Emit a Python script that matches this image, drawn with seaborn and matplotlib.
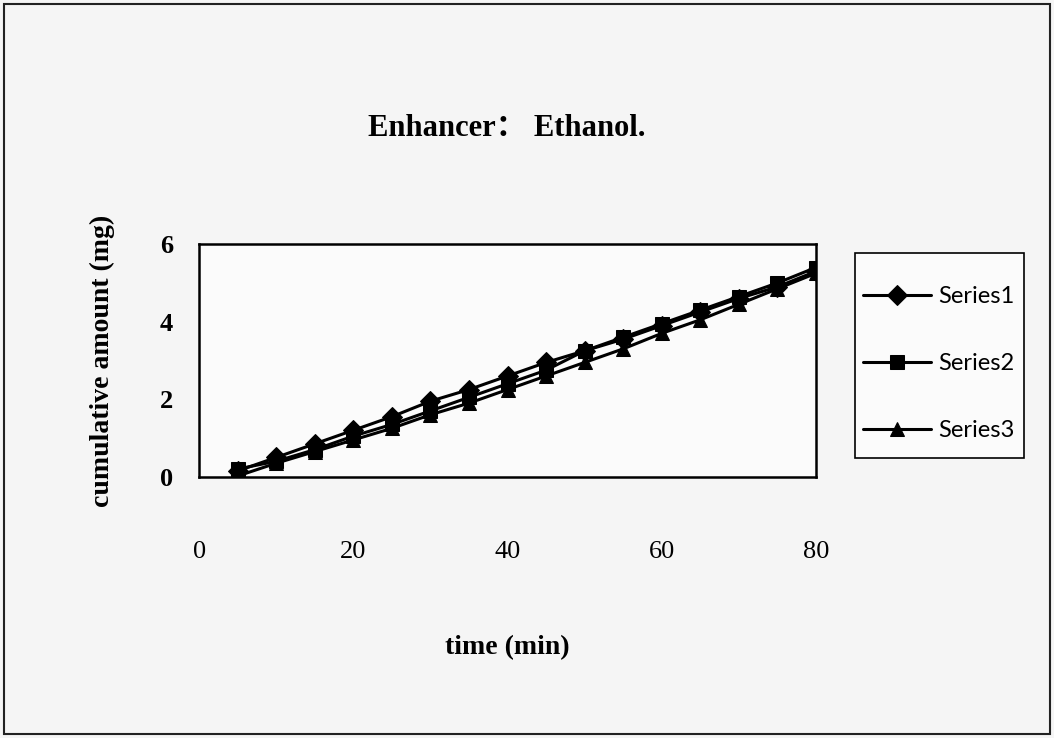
import matplotlib
matplotlib.use('Agg')
import matplotlib.pyplot as plt
import seaborn as sns
import pandas as pd
from matplotlib.patches import Rectangle

time_min = [5, 10, 15, 20, 25, 30, 35, 40, 45, 50, 55, 60, 65, 70, 75, 80]
series1 = [0.15, 0.50, 0.85, 1.20, 1.55, 1.95, 2.25, 2.60, 2.95, 3.25, 3.55, 3.90, 4.25, 4.60, 4.90, 5.30]
series2 = [0.20, 0.40, 0.70, 1.05, 1.35, 1.70, 2.05, 2.40, 2.75, 3.25, 3.60, 3.95, 4.30, 4.65, 5.00, 5.40]
series3 = [0.02, 0.35, 0.65, 0.95, 1.25, 1.60, 1.90, 2.25, 2.60, 2.95, 3.30, 3.70, 4.05, 4.45, 4.85, 5.25]
names = ['Series1', 'Series2', 'Series3']

df = pd.DataFrame({
    'time': time_min * 3,
    'amount': series1 + series2 + series3,
    'series': [n for n in names for _ in time_min],
})

sns.set_style('white')
plt.rcParams['font.family'] = ['Liberation Serif', 'DejaVu Serif']
plt.rcParams.update({'text.color': 'black', 'axes.labelcolor': 'black',
                     'xtick.color': 'black', 'ytick.color': 'black'})

fig = plt.figure(figsize=(10.54, 7.38), dpi=100, facecolor='#f5f5f5')
# outer frame of the scanned chart
fig.patches.append(Rectangle((0.004, 0.005), 0.992, 0.99, transform=fig.transFigure,
                             fill=False, edgecolor='#222222', linewidth=1.5, zorder=-2))
ax = fig.add_axes([0.189, 0.354, 0.585, 0.315], facecolor='#fbfbfb')

sns.lineplot(data=df, x='time', y='amount', hue='series', style='series',
             palette=['black'] * 3, markers={'Series1': 'D', 'Series2': 's', 'Series3': '^'},
             dashes=False, markersize=10, markeredgecolor='black', linewidth=2.2, ax=ax)

ax.set_xlim(0, 80)
ax.set_ylim(0, 6)
ax.set_xticks([0, 20, 40, 60, 80])
ax.set_yticks([0, 2, 4, 6])
for s in ax.spines.values():
    s.set_color('black')
    s.set_linewidth(1.8)
ax.tick_params(axis='x', direction='inout', length=17, width=1.5, pad=38, labelsize=19)
ax.tick_params(axis='y', direction='inout', length=18, width=1.5, pad=10, labelsize=19)
for lab in ax.get_yticklabels():
    lab.set_fontweight('bold')

ax.set_xlabel('time (min)', fontsize=20, fontweight='bold', labelpad=52)
ax.set_ylabel('cumulative amount (mg)', fontsize=20, fontweight='bold', labelpad=32)
fig.text(0.481, 0.826, 'Enhancer\uff1a Ethanol.', ha='center', va='center',
         fontsize=22, fontweight='bold', family=['Liberation Serif', 'Noto Sans CJK SC'])

# legend box drawn separately so the padding matches the original
fig.patches.append(Rectangle((0.811, 0.379), 0.161, 0.278, transform=fig.transFigure,
                             facecolor='#fbfbfb', edgecolor='black', linewidth=1.2, zorder=-1))
handles, labels = ax.get_legend_handles_labels()
ax.legend(handles, labels, loc='center left', bbox_to_anchor=(0.7986, 0.507),
          bbox_transform=fig.transFigure, frameon=False,
          prop={'family': 'Lato', 'size': 17}, labelspacing=1.95,
          handlelength=2.9, handletextpad=0.3)

fig.savefig('out.png', dpi=100, facecolor=fig.get_facecolor())
